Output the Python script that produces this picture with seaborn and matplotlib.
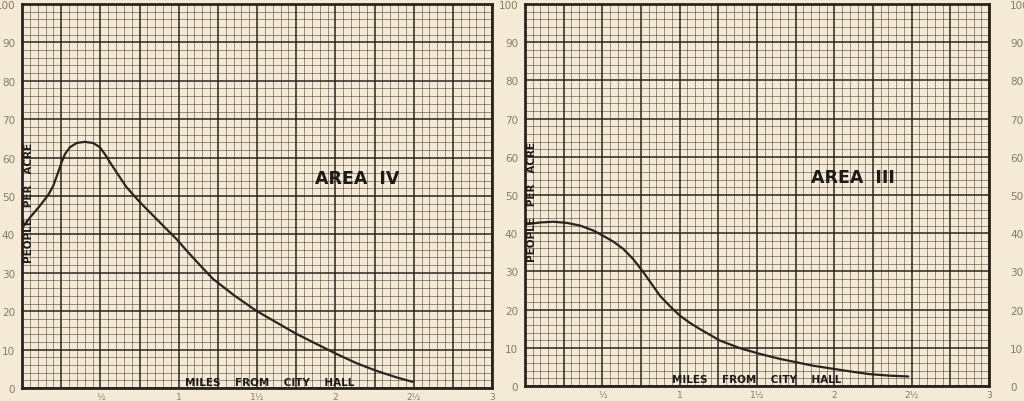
import matplotlib
matplotlib.use("Agg")
import matplotlib.pyplot as plt
import matplotlib.transforms as mtransforms
import seaborn as sns
import pandas as pd
from matplotlib.ticker import MultipleLocator

# Area IV: people per acre by distance from city hall (miles)
area4_miles = [0.0, 0.051, 0.115, 0.168, 0.20, 0.231, 0.253, 0.274, 0.306, 0.349,
               0.40, 0.454, 0.497, 0.529, 0.561, 0.603, 0.667, 0.752, 0.837, 0.922,
               0.986, 1.05, 1.113, 1.219, 1.358, 1.496, 1.623, 1.751, 1.878, 2.006,
               2.133, 2.26, 2.388, 2.494]
area4_density = [41.6, 44.4, 47.5, 50.3, 52.7, 56.2, 58.8, 60.9, 62.7, 63.8,
                 64.1, 63.8, 62.7, 60.9, 58.8, 56.2, 52.3, 48.4, 44.9, 41.4,
                 38.8, 35.8, 33.0, 28.4, 24.0, 20.1, 17.1, 14.1, 11.5, 8.9,
                 6.5, 4.5, 2.8, 1.6]

# Area III
area3_miles = [0.0, 0.097, 0.183, 0.27, 0.356, 0.442, 0.506, 0.571, 0.635, 0.70,
               0.765, 0.819, 0.873, 0.937, 1.002, 1.067, 1.131, 1.26, 1.39, 1.519,
               1.648, 1.756, 1.864, 1.993, 2.122, 2.23, 2.36, 2.478]
area3_density = [42.3, 42.8, 43.0, 42.7, 42.0, 40.7, 39.3, 37.8, 35.9, 33.2,
                 29.8, 26.7, 23.6, 20.9, 18.4, 16.5, 14.9, 11.9, 9.9, 8.4,
                 7.1, 6.2, 5.3, 4.5, 3.7, 3.1, 2.7, 2.5]

x_tick_pos = [0.5, 1, 1.5, 2, 2.5, 3]
x_tick_labels = ["½", "1", "1½", "2", "2½", "3"]
y_tick_pos = list(range(0, 101, 10))
y_tick_labels = [str(v) for v in y_tick_pos]

PAPER = "#f4ead6"
INK = "#2b241e"
LABEL = "#857a6d"
LETTER = "#1e1a16"

sns.set_style("white")
plt.rcParams["font.family"] = ["DejaVu Sans"]

fig = plt.figure(figsize=(10.24, 4.02), dpi=100, facecolor=PAPER)
ax_left = fig.add_axes([22 / 1024, 13 / 402, 470 / 1024, 384 / 402])
ax_right = fig.add_axes([525 / 1024, 15 / 402, 464 / 1024, 382 / 402])


def draw_panel(ax, miles, density, title, title_xy, miles_xy, label_pad):
    df = pd.DataFrame({"miles": miles, "density": density})
    ax.set_facecolor(PAPER)
    sns.lineplot(data=df, x="miles", y="density", ax=ax, color=INK,
                 linewidth=1.6, sort=False, estimator=None, zorder=5,
                 solid_joinstyle="round", solid_capstyle="round")
    ax.set_xlim(0, 3)
    ax.set_ylim(0, 100)

    # graph paper grid: heavy lines every quarter mile / 10 people, light every 1/5
    ax.xaxis.set_major_locator(MultipleLocator(0.25))
    ax.xaxis.set_minor_locator(MultipleLocator(0.05))
    ax.yaxis.set_major_locator(MultipleLocator(10))
    ax.yaxis.set_minor_locator(MultipleLocator(2))
    ax.grid(which="major", color=INK, linewidth=1.1)
    ax.grid(which="minor", color=INK, linewidth=0.5, alpha=0.65)
    ax.set_axisbelow(True)
    for s in ax.spines.values():
        s.set_color(INK)
        s.set_linewidth(2)

    ax.set_xlabel("")
    ax.set_ylabel("")
    ax.tick_params(which="both", length=0)
    ax.tick_params(axis="x", labelbottom=False)
    ax.set_yticks(y_tick_pos)
    ax.set_yticklabels(y_tick_labels)
    ax.tick_params(axis="y", labelsize=7.5, labelcolor=LABEL, pad=label_pad)

    # x labels only at the half-mile marks
    for pos, lab in zip(x_tick_pos, x_tick_labels):
        ax.text(pos, -2.3, lab, ha="center", va="center", fontsize=6.5,
                color=LABEL, clip_on=False)

    ax.text(title_xy[0], title_xy[1], title, ha="center", va="center",
            fontsize=12.5, fontweight="bold", color=LETTER, zorder=6)
    ax.text(miles_xy[0], miles_xy[1], "MILES    FROM    CITY    HALL", ha="center",
            va="center", fontsize=7.5, fontweight="bold", color=LETTER, zorder=6)
    ax.text(0.045, 48.5, "PEOPLE   PER   ACRE", rotation=90, ha="center",
            va="center", fontsize=7.5, fontweight="bold", color=LETTER, zorder=6)


draw_panel(ax_left, area4_miles, area4_density, "AREA  IV", (2.14, 54.8), (1.58, 1.5), 5)
draw_panel(ax_right, area3_miles, area3_density, "AREA  III", (2.12, 54.8), (1.5, 1.8), 5)

# the numbers at the far right belong to the next sheet, set further out
ax_right.tick_params(axis="y", labelright=True)
offset = mtransforms.ScaledTranslation(14 / 100, 0, fig.dpi_scale_trans)
for t in ax_right.yaxis.get_major_ticks():
    t.label2.set_transform(t.label2.get_transform() + offset)

fig.savefig("out.png", dpi=100, facecolor=PAPER)
